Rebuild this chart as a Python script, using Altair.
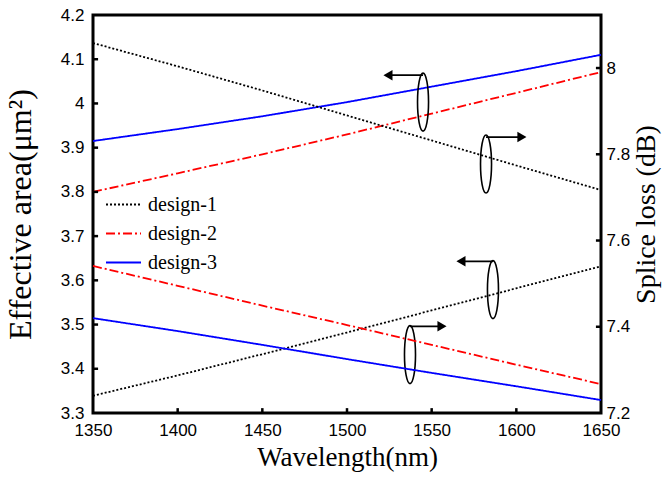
import altair as alt
import pandas as pd

wavelength = [1350, 1400, 1450, 1500, 1550, 1600, 1650]
designs = ["design-1", "design-2", "design-3"]

# Effective area (left axis, um^2)
ea_design1 = [3.339, 3.385, 3.433, 3.482, 3.532, 3.582, 3.632]
ea_design2 = [3.800, 3.842, 3.885, 3.930, 3.977, 4.024, 4.071]
ea_design3 = [3.915, 3.942, 3.971, 4.003, 4.038, 4.073, 4.110]

# Splice loss (right axis, dB)
sl_design1 = [8.058, 8.004, 7.948, 7.890, 7.832, 7.774, 7.717]
sl_design2 = [7.541, 7.495, 7.449, 7.404, 7.358, 7.312, 7.267]
sl_design3 = [7.420, 7.390, 7.358, 7.325, 7.293, 7.262, 7.230]

x_ticks = [1350, 1400, 1450, 1500, 1550, 1600, 1650]
left_ticks = [3.3, 3.4, 3.5, 3.6, 3.7, 3.8, 3.9, 4.0, 4.1, 4.2]
right_ticks = [7.2, 7.4, 7.6, 7.8, 8.0]

# annotation ellipses (centre wavelength, centre effective-area) and arrows
ell_wl = [1544.9, 1582.1, 1586.2, 1537.2]
ell_ea = [4.003, 3.863, 3.579, 3.432]
arr_y = [4.064, 3.924, 3.643, 3.496]
arr_tip = [1524.2, 1603.3, 1567.3, 1556.1]
arr_dir = ["triangle-left", "triangle-right", "triangle-left", "triangle-right"]

ea_rows, sl_rows = [], []
for d, ea, sl in zip(designs, [ea_design1, ea_design2, ea_design3], [sl_design1, sl_design2, sl_design3]):
    for w, a, s in zip(wavelength, ea, sl):
        ea_rows.append({"wl": w, "value": a, "design": d})
        sl_rows.append({"wl": w, "value": s, "design": d})
ea_df = pd.DataFrame(ea_rows)
sl_df = pd.DataFrame(sl_rows)
ann_df = pd.DataFrame({"wl": ell_wl, "value": ell_ea, "ay": arr_y, "tip": arr_tip, "shape": arr_dir})

X_DOM = [1350, 1650]
L_DOM = [3.3, 4.2]
R_DOM = [7.2, 8.123]

x_enc = alt.X("wl:Q", scale=alt.Scale(domain=X_DOM, nice=False, zero=False),
              axis=alt.Axis(values=x_ticks, format="d", title="Wavelength(nm)", grid=False,
                            ticks=False, domain=False, labelPadding=9, titlePadding=6,
                            labelFlush=False))

left_axis = alt.Axis(values=left_ticks, format=".2~f", title="Effective area(μm²)", grid=False,
                     ticks=False, domain=False, labelPadding=9, titlePadding=23, labelFlush=False)
right_axis = alt.Axis(values=right_ticks, format=".2~f", title="Splice loss (dB)", grid=False,
                      ticks=False, domain=False, labelPadding=5, titlePadding=3, titleFontSize=28,
                      orient="right", titleAngle=270, titleBaseline="top", labelFlush=False)

y_left = alt.Y("value:Q", scale=alt.Scale(domain=L_DOM, nice=False, zero=False), axis=left_axis)
y_right = alt.Y("value:Q", scale=alt.Scale(domain=R_DOM, nice=False, zero=False), axis=right_axis)

legend = alt.Legend(title=None, orient="none", legendX=12, legendY=171, symbolType="stroke",
                    symbolSize=1225, symbolStrokeWidth=1.8, labelFont="Liberation Serif",
                    labelFontSize=20, labelColor="black", rowPadding=-12, padding=0, labelOffset=6)
color_enc = alt.Color("design:N", scale=alt.Scale(domain=designs, range=["#000000", "#ff0000", "#0000ff"]),
                      legend=legend)
dash_enc = alt.StrokeDash("design:N", scale=alt.Scale(domain=designs, range=[[2, 2], [9, 3, 2, 3], [1, 0]]),
                          legend=legend)

ea_lines = alt.Chart(ea_df).mark_line(strokeWidth=1.8).encode(x=x_enc, y=y_left, color=color_enc, strokeDash=dash_enc)
sl_lines = alt.Chart(sl_df).mark_line(strokeWidth=1.8).encode(x=x_enc, y=y_right, color=color_enc, strokeDash=dash_enc)

ellipse_path = "M0,-1A0.19,1,0,1,1,0,1A0.19,1,0,1,1,0,-1Z"
ellipses = alt.Chart(ann_df).mark_point(shape=ellipse_path, size=3364, filled=False, color="black",
                                        strokeWidth=1.6, opacity=1).encode(x=x_enc, y=y_left)
shafts = alt.Chart(ann_df).mark_rule(color="black", strokeWidth=1.8).encode(
    x=x_enc, x2="tip:Q", y=alt.Y("ay:Q", scale=alt.Scale(domain=L_DOM, nice=False, zero=False), axis=left_axis))
heads = alt.Chart(ann_df).mark_point(filled=True, color="black", size=110, opacity=1).encode(
    x=alt.X("tip:Q", scale=alt.Scale(domain=X_DOM, nice=False, zero=False)),
    y=alt.Y("ay:Q", scale=alt.Scale(domain=L_DOM, nice=False, zero=False), axis=left_axis),
    shape=alt.Shape("shape:N", scale=None, legend=None))

# inward tick marks
bt_df = pd.DataFrame({"wl": x_ticks[1:-1], "value": [3.3] * 5, "v2": [3.311] * 5})
bottom_ticks = alt.Chart(bt_df).mark_rule(color="black", strokeWidth=2.5).encode(
    x=x_enc, y=y_left, y2="v2:Q")
lt_df = pd.DataFrame({"wl": [1350] * 8, "w2": [1353] * 8, "value": left_ticks[1:-1]})
left_tk = alt.Chart(lt_df).mark_rule(color="black", strokeWidth=2.5).encode(x=x_enc, x2="w2:Q", y=y_left)
rt_df = pd.DataFrame({"wl": [1647] * 4, "w2": [1650] * 4, "value": right_ticks[1:]})
right_tk = alt.Chart(rt_df).mark_rule(color="black", strokeWidth=2.5).encode(x=x_enc, x2="w2:Q", y=y_right)

left_layer = alt.layer(ea_lines, ellipses, shafts, heads, bottom_ticks, left_tk)
right_layer = alt.layer(sl_lines, right_tk)

chart = alt.layer(left_layer, right_layer).resolve_scale(y="independent").properties(
    width=508, height=398,
    padding={"left": 93, "top": 15, "right": 62, "bottom": 70},
    autosize=alt.AutoSizeParams(type="none"),
    background="white",
).configure_view(stroke="black", strokeWidth=3).configure_axis(
    labelFont="Liberation Sans", labelFontSize=17, labelColor="black",
    titleFont="Liberation Serif", titleFontSize=32, titleFontWeight="normal", titleColor="black",
).configure_axisX(titleFontSize=27)

chart.save("out.html", embed_options={"renderer": "svg", "actions": False})
